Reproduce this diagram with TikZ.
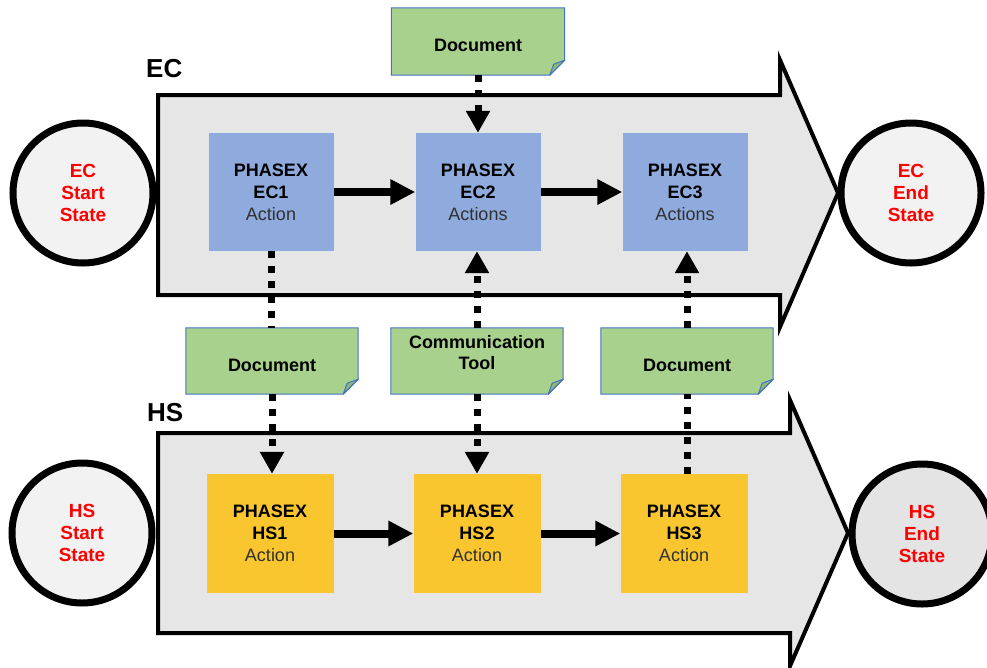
\documentclass[tikz,border=0pt]{standalone}
\usepackage{fontspec}
\setmainfont{Liberation Sans}
\usetikzlibrary{arrows.meta,calc,backgrounds}
\definecolor{bodygray}{HTML}{E6E6E6}
\definecolor{circgray}{HTML}{F2F2F2}
\definecolor{circdark}{HTML}{E4E4E4}
\definecolor{ecblue}{HTML}{8FAADC}
\definecolor{hsyellow}{HTML}{F9C62F}
\definecolor{notegreen}{HTML}{A9D18E}
\definecolor{folddark}{HTML}{8DB873}
\definecolor{noteline}{HTML}{4472C4}
\definecolor{statered}{HTML}{FF0000}
\definecolor{acttext}{HTML}{303030}
\newcommand\notebg[1]{%
  \filldraw[fill=notegreen,draw=noteline,line width=1pt]
    (#1.north west) -- (#1.north east) -- ($(#1.south east)+(0,-15)$)
    -- ($(#1.south east)+(-15,0)$) -- (#1.south west) -- cycle;
  \filldraw[fill=folddark,draw=noteline,line width=1pt,line join=round]
    ($(#1.south east)+(0,-15)$) -- ($(#1.south east)+(-11,-11)$)
    -- ($(#1.south east)+(-15,0)$) -- cycle;
}
\newcommand\shifttext[2]{\raisebox{#1}[\height][\depth]{#2}}
\begin{document}
\begin{tikzpicture}[x=1pt,y=-1pt,
  flowarrow/.style={draw=black,line width=4pt,line join=miter,fill=bodygray},
  ecbox/.style={fill=ecblue,minimum width=125pt,minimum height=118pt,inner sep=0pt,align=center,font=\fontsize{18}{22}\selectfont},
  hsbox/.style={fill=hsyellow,minimum width=127pt,minimum height=119pt,inner sep=0pt,align=center,font=\fontsize{18}{22}\selectfont},
  notebox/.style={minimum width=172pt,minimum height=66pt,inner sep=0pt,align=center,font=\bfseries\fontsize{18}{20}\selectfont},
  statecirc/.style={circle,draw=black,line width=7pt,minimum size=140pt,inner sep=0pt,align=center,text=statered,font=\bfseries\fontsize{19}{22}\selectfont},
  lanelabel/.style={anchor=base west,inner sep=0pt,font=\bfseries\fontsize{26}{26}\selectfont},
  thickarrow/.style={line width=8pt,-{Triangle[length=25pt,width=24pt]}},
  dotline/.style={line width=7pt,dash pattern=on 7pt off 8pt},
  dotarrow/.style={dotline,-{Triangle[length=22pt,width=23pt]}}
]
\useasboundingbox (0,0) rectangle (987,667);

% lane arrows
\draw[flowarrow] (158,95) -- (780,95) -- (780,60) -- (838,193) -- (780,327) -- (780,295) -- (158,295) -- cycle;
\draw[flowarrow] (158,433) -- (790,433) -- (790,400) -- (848,533) -- (790,666) -- (790,633) -- (158,633) -- cycle;

% lane labels
\node[lanelabel] (eclab) at (146,77) {EC};
\node[lanelabel] (hslab) at (147,421) {HS};

% EC boxes
\node[ecbox] (EC1) at (271,192) {\textbf{PHASEX}\\\textbf{EC1}\\\textcolor{acttext}{Action}};
\node[ecbox] (EC2) at (478,192) {\textbf{PHASEX}\\\textbf{EC2}\\\textcolor{acttext}{Actions}};
\node[ecbox] (EC3) at (685,192) {\textbf{PHASEX}\\\textbf{EC3}\\\textcolor{acttext}{Actions}};

% HS boxes
\node[hsbox] (HS1) at (270,533.5) {\textbf{PHASEX}\\\textbf{HS1}\\\textcolor{acttext}{Action}};
\node[hsbox] (HS2) at (477,533.5) {\textbf{PHASEX}\\\textbf{HS2}\\\textcolor{acttext}{Action}};
\node[hsbox] (HS3) at (684,533.5) {\textbf{PHASEX}\\\textbf{HS3}\\\textcolor{acttext}{Action}};

% notes
\node[notebox,minimum width=173pt,minimum height=67pt] (dtop) at (478,41.5) {\shifttext{-4pt}{Document}};
\node[notebox] (dleft) at (272,361) {\shifttext{-4pt}{Document}};
\node[notebox] (comm) at (477,361) {\shifttext{6pt}{\begin{tabular}{@{}c@{}}Communication\\[1pt]Tool\end{tabular}}};
\node[notebox] (dright) at (687,361) {\shifttext{-4pt}{Document}};
\begin{scope}[on background layer]
  \notebg{dtop}
  \notebg{dleft}
  \notebg{comm}
  \notebg{dright}
\end{scope}

% flow arrows
\draw[thickarrow] (EC1.east) -- (EC2.west);
\draw[thickarrow] (EC2.east) -- (EC3.west);
\draw[thickarrow] (HS1.east) -- (HS2.west);
\draw[thickarrow] (HS2.east) -- (HS3.west);

% dotted connectors
\draw[dotarrow] (dtop.south) -- (EC2.north);
\draw[dotline] (EC1.south) -- (EC1.south |- dleft.north);
\draw[dotarrow] (dleft.south) -- (dleft.south |- HS1.north);
\draw[dotarrow] (comm.north) -- (comm.north |- EC2.south);
\draw[dotarrow] (comm.south) -- (comm.south |- HS2.north);
\draw[dotarrow] (dright.north) -- (dright.north |- EC3.south);
\draw[dotline] (HS3.north -| dright.south) -- (dright.south);

% states
\node[statecirc,fill=circgray] (ecstart) at (83,193) {EC\\Start\\State};
\node[statecirc,fill=circgray] (ecend) at (911,193) {EC\\End\\State};
\node[statecirc,fill=circgray] (hsstart) at (82,533) {HS\\Start\\State};
\node[statecirc,fill=circdark] (hsend) at (922,534) {HS\\End\\State};
\end{tikzpicture}
\end{document}
